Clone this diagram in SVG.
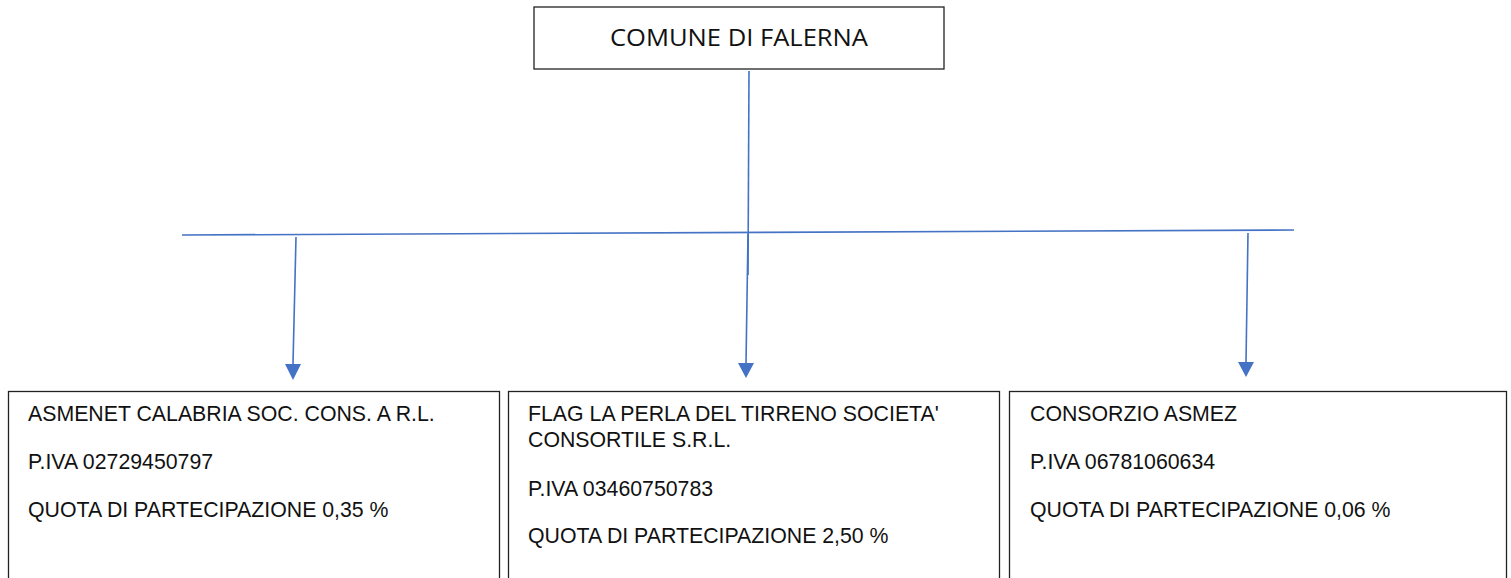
<svg xmlns="http://www.w3.org/2000/svg" width="1511" height="578" viewBox="0 0 1511 578">
<style>
.box{fill:#fff;stroke:#222;stroke-width:1.3}
.t{font-family:"Liberation Sans",Arial,sans-serif;font-size:21.3px;fill:#111}
.top{font-family:"Open Sans","Liberation Sans",sans-serif;font-size:24px;fill:#111}
.ln{stroke:#4472C4;stroke-width:1.6;fill:none}
.ah{fill:#4472C4}
</style>
<rect width="1511" height="578" fill="#fff"/>
<g id="comune">
<rect class="box" x="534" y="7" width="410" height="62"/>
<text class="top" x="610" y="46" textLength="258" lengthAdjust="spacingAndGlyphs">COMUNE DI FALERNA</text>
</g>
<g id="connectors">
<line class="ln" x1="749" y1="71" x2="748" y2="275"/>
<line class="ln" x1="182" y1="235" x2="1294" y2="230"/>
<path class="ln" d="M296,237 L293,364"/>
<path class="ah" d="M285,364 L301,364 L293,380 Z"/>
<path class="ln" d="M748,234 L746,364"/>
<path class="ah" d="M738,363 L754,363 L746,378 Z"/>
<path class="ln" d="M1248,233 L1246,362"/>
<path class="ah" d="M1238,362 L1254,362 L1246,377 Z"/>
</g>
<g id="asmenet">
<rect class="box" x="8.5" y="391.5" width="491" height="200"/>
<text class="t" x="28" y="421">ASMENET CALABRIA SOC. CONS. A R.L.</text>
<text class="t" x="28" y="469">P.IVA 02729450797</text>
<text class="t" x="28" y="517">QUOTA DI PARTECIPAZIONE 0,35 %</text>
</g>
<g id="flag">
<rect class="box" x="508.5" y="391.5" width="491" height="200"/>
<text class="t" x="528" y="421">FLAG LA PERLA DEL TIRRENO SOCIETA'</text>
<text class="t" x="528" y="447">CONSORTILE S.R.L.</text>
<text class="t" x="528" y="496">P.IVA 03460750783</text>
<text class="t" x="528" y="543">QUOTA DI PARTECIPAZIONE 2,50 %</text>
</g>
<g id="asmez">
<rect class="box" x="1009.5" y="391.5" width="497" height="200"/>
<text class="t" x="1030" y="421">CONSORZIO ASMEZ</text>
<text class="t" x="1030" y="469">P.IVA 06781060634</text>
<text class="t" x="1030" y="517">QUOTA DI PARTECIPAZIONE 0,06 %</text>
</g>
</svg>
